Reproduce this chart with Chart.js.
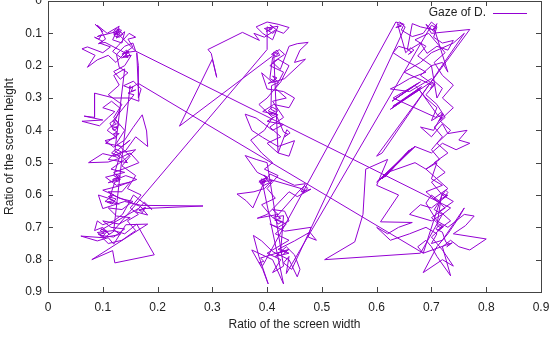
<!DOCTYPE html>
<html lang="en">
<head>
<meta charset="UTF-8">
<title>Gaze of D.</title>
<script src="https://cdn.jsdelivr.net/npm/chart.js"></script>
<style>
  body { margin: 0; background: #fff; }
</style>
</head>
<body>
<canvas id="gaze" width="551" height="337"></canvas>
<script>
const xTicks = [0, 0.1, 0.2, 0.3, 0.4, 0.5, 0.6, 0.7, 0.8, 0.9];
const yTicks = [0, 0.1, 0.2, 0.3, 0.4, 0.5, 0.6, 0.7, 0.8, 0.9];

// gaze samples, [x ratio, y ratio], chunks listed in recording order below
const leftTop = [
  [0.12,0.10],[0.13,0.085],[0.125,0.115],[0.14,0.095],[0.135,0.13],[0.118,0.12],[0.13,0.078],[0.108,0.1],
  [0.09,0.075],[0.1,0.095],[0.086,0.072],[0.096,0.088],[0.105,0.118],[0.094,0.13],[0.114,0.142],[0.1,0.16],
  [0.072,0.142],[0.062,0.148],[0.086,0.168],[0.072,0.205],[0.09,0.182],[0.11,0.168],[0.124,0.19],[0.142,0.158],
  [0.155,0.142],[0.146,0.118],[0.16,0.112],[0.148,0.1],[0.128,0.138],[0.118,0.156],[0.134,0.176],[0.152,0.168],
  [0.14,0.2],[0.12,0.218],[0.132,0.242],[0.146,0.222],[0.13,0.205],[0.125,0.165],[0.14,0.14],[0.155,0.13],
  [0.16,0.155]
];
const leftFix1 = [
  [0.122,0.092],[0.128,0.1],[0.12,0.104],[0.131,0.096],[0.126,0.088],[0.134,0.09],[0.129,0.106],[0.119,0.098],
  [0.124,0.085],[0.137,0.102],[0.13,0.112],[0.121,0.108],[0.127,0.094]
];
const leftFix2 = [
  [0.09,0.11],[0.098,0.104],[0.093,0.118],[0.085,0.112],[0.1,0.125],[0.092,0.132],[0.104,0.128]
];
const leftFix3 = [
  [0.138,0.158],[0.145,0.162],[0.14,0.17],[0.148,0.155],[0.135,0.165],[0.143,0.152],[0.15,0.168],[0.137,0.172],
  [0.146,0.175],[0.141,0.16],[0.16,0.155]
];
const rightLow1 = [
  [0.735,0.64],[0.72,0.66],[0.705,0.645],[0.715,0.62],[0.7,0.6],[0.69,0.625],[0.71,0.68],[0.73,0.7],
  [0.745,0.68],[0.76,0.66],[0.778,0.665],[0.762,0.695],[0.74,0.72],[0.8,0.736],[0.77,0.77],[0.75,0.76],
  [0.735,0.74],[0.72,0.76],[0.735,0.85],[0.71,0.79],[0.7,0.76],[0.69,0.74],[0.675,0.76],[0.685,0.78]
];
const rightFix6 = [
  [0.72,0.595],[0.728,0.602],[0.722,0.61],[0.73,0.592],[0.726,0.585],[0.718,0.605]
];
const rightFix7 = [
  [0.71,0.695],[0.718,0.702],[0.712,0.71],[0.722,0.698],[0.716,0.69],[0.708,0.705],[0.72,0.715]
];
const rightFix8 = [
  [0.726,0.745],[0.734,0.752],[0.728,0.76],[0.738,0.748],[0.685,0.78]
];
const leftMid = [
  [0.165,0.255],[0.15,0.27],[0.138,0.262],[0.156,0.248],[0.17,0.272],[0.165,0.3],[0.165,0.2],[0.162,0.16],
  [0.166,0.31],[0.15,0.3],[0.12,0.3],[0.085,0.285],[0.085,0.36],[0.066,0.356],[0.1,0.368],[0.062,0.372],
  [0.094,0.386],[0.11,0.36],[0.122,0.342],[0.1,0.33],[0.116,0.31],[0.132,0.332],[0.12,0.38],[0.108,0.4],
  [0.126,0.422],[0.104,0.432],[0.12,0.452],[0.14,0.43],[0.155,0.392],[0.172,0.352],[0.18,0.402],[0.182,0.45],
  [0.16,0.42],[0.142,0.462],[0.12,0.48],[0.1,0.472],[0.074,0.5],[0.11,0.498],[0.128,0.488],[0.15,0.47],
  [0.166,0.5],[0.14,0.518],[0.12,0.53],[0.132,0.552],[0.11,0.562],[0.142,0.54],[0.162,0.552],[0.13,0.572],
  [0.1,0.585],[0.12,0.6],[0.104,0.62],[0.13,0.628],[0.11,0.61],[0.092,0.6],[0.1,0.642],[0.14,0.62],
  [0.17,0.632],[0.283,0.634],[0.172,0.642],[0.182,0.662],[0.16,0.652],[0.176,0.622],[0.19,0.645],[0.156,0.6],
  [0.136,0.66],[0.12,0.68],[0.1,0.692],[0.09,0.68],[0.085,0.71],[0.1,0.7],[0.112,0.722],[0.122,0.71],
  [0.132,0.722],[0.1,0.732],[0.06,0.727],[0.09,0.742],[0.11,0.732],[0.12,0.752],[0.142,0.692],[0.182,0.69],
  [0.08,0.8],[0.118,0.772],[0.122,0.81],[0.194,0.785],[0.162,0.69],[0.14,0.72],[0.12,0.71]
];
const leftFix4 = [
  [0.15,0.262],[0.148,0.27],[0.155,0.265],[0.152,0.28],[0.16,0.275],[0.146,0.285],[0.157,0.29]
];
const leftFix5 = [
  [0.118,0.372],[0.125,0.38],[0.115,0.388],[0.128,0.392],[0.12,0.4],[0.113,0.378],[0.123,0.366],[0.13,0.385],
  [0.117,0.395],[0.126,0.405],[0.119,0.412]
];
const leftWander = [
  [0.13,0.41],[0.105,0.44],[0.135,0.45],[0.15,0.43],[0.128,0.46],[0.11,0.49],[0.145,0.5],[0.13,0.47],
  [0.16,0.46],[0.14,0.49],[0.115,0.52],[0.14,0.53],[0.105,0.545],[0.125,0.57],[0.15,0.56],[0.135,0.59],
  [0.11,0.59],[0.13,0.61],[0.155,0.62],[0.135,0.645],[0.11,0.64],[0.125,0.665],[0.15,0.67],[0.13,0.69],
  [0.1,0.68],[0.115,0.7],[0.14,0.705],[0.12,0.73],[0.095,0.725],[0.11,0.75],[0.135,0.74],[0.16,0.71],
  [0.145,0.68],[0.165,0.66],[0.15,0.64],[0.17,0.6],[0.145,0.58],[0.16,0.54],[0.135,0.51],[0.15,0.48],
  [0.125,0.44],[0.14,0.4],[0.12,0.36],[0.135,0.32],[0.11,0.29],[0.13,0.26],[0.12,0.23],[0.14,0.21]
];
const leftFix6 = [
  [0.122,0.465],[0.13,0.472],[0.118,0.478],[0.127,0.484],[0.135,0.468],[0.124,0.458],[0.116,0.47],[0.131,0.48]
];
const leftFix7 = [
  [0.12,0.54],[0.128,0.548],[0.118,0.552],[0.132,0.542],[0.124,0.535],[0.13,0.556],[0.122,0.56]
];
const leftFix8 = [
  [0.112,0.61],[0.12,0.617],[0.108,0.622],[0.117,0.628],[0.124,0.612],[0.11,0.605],[0.118,0.6]
];
const leftFix9 = [
  [0.168,0.635],[0.175,0.645],[0.166,0.648],[0.178,0.638],[0.172,0.655],[0.165,0.642]
];
const leftFix10 = [
  [0.095,0.71],[0.103,0.718],[0.092,0.722],[0.1,0.728],[0.108,0.712],[0.097,0.705],[0.112,0.72],[0.104,0.732],
  [0.09,0.716],[0.12,0.71]
];
const midFix1 = [
  [0.40,0.15],[0.4,0.08],[0.408,0.088],[0.398,0.094],[0.412,0.082],[0.405,0.074],[0.418,0.09],[0.41,0.1],
  [0.402,0.092],[0.395,0.085],[0.42,0.078]
];
const midTop = [
  [0.41,0.12],[0.392,0.1],[0.38,0.08],[0.4,0.065],[0.42,0.072],[0.44,0.082],[0.43,0.1],
  [0.415,0.09],[0.395,0.112],[0.376,0.1],[0.386,0.122],[0.355,0.097],[0.292,0.15],[0.298,0.162],[0.308,0.236],
  [0.3,0.18],[0.24,0.387],[0.41,0.17],[0.422,0.15],[0.432,0.165],[0.41,0.19],[0.424,0.212],[0.44,0.14],
  [0.455,0.132],[0.475,0.128],[0.46,0.152],[0.45,0.19],[0.47,0.18],[0.432,0.24],[0.41,0.252],[0.39,0.222],
  [0.4,0.272],[0.43,0.28],[0.45,0.3],[0.44,0.33],[0.412,0.32],[0.392,0.342],[0.42,0.352],[0.4,0.372],
  [0.43,0.382],[0.41,0.4],[0.38,0.362],[0.36,0.35],[0.372,0.4],[0.392,0.422],[0.42,0.45],[0.45,0.432],
  [0.44,0.48],[0.42,0.47]
];
const midFix2 = [
  [0.412,0.158],[0.42,0.163],[0.415,0.17],[0.408,0.165],[0.418,0.152],[0.423,0.168],[0.41,0.175]
];
const midFix3 = [
  [0.405,0.24],[0.414,0.248],[0.402,0.255],[0.418,0.238],[0.41,0.232],[0.42,0.252],[0.408,0.262]
];
const midFix4 = [
  [0.407,0.335],[0.415,0.342],[0.404,0.348],[0.412,0.355],[0.42,0.338],[0.409,0.328],[0.402,0.34],[0.416,0.35]
];
const midFix5 = [
  [0.43,0.405],[0.438,0.412],[0.432,0.42],[0.442,0.408],[0.436,0.398]
];
const midWander = [
  [0.42,0.47],[0.4,0.44],[0.425,0.42],[0.405,0.39],[0.43,0.36],[0.41,0.31],[0.435,0.3],[0.415,0.27],
  [0.43,0.22],[0.405,0.2],[0.42,0.18],[0.44,0.2],[0.425,0.25],[0.4,0.3],[0.385,0.32],[0.41,0.36],
  [0.395,0.4],[0.37,0.43],[0.39,0.47],[0.41,0.5],[0.395,0.52],[0.42,0.54],[0.4,0.58],[0.415,0.61],
  [0.39,0.63],[0.41,0.67],[0.435,0.69],[0.415,0.72],[0.44,0.74],[0.42,0.76],[0.4,0.78],[0.425,0.8],
  [0.41,0.84],[0.43,0.82]
];
const midLow = [
  [0.40,0.5],[0.38,0.49],[0.36,0.478],[0.382,0.53],[0.4,0.545],[0.385,0.56],[0.41,0.555],[0.395,0.58],
  [0.376,0.59],[0.345,0.597],[0.362,0.618],[0.374,0.64],[0.392,0.57],[0.405,0.535],[0.45,0.57],[0.47,0.565],
  [0.462,0.59],[0.48,0.582],[0.455,0.605],[0.44,0.59],[0.412,0.64],[0.4,0.66],[0.382,0.672],[0.42,0.66],
  [0.41,0.645],[0.432,0.65],[0.44,0.68],[0.42,0.7],[0.405,0.69],[0.432,0.712],[0.48,0.7],[0.475,0.73],
  [0.49,0.74],[0.478,0.715],[0.45,0.742],[0.42,0.768],[0.44,0.78],[0.415,0.79],[0.435,0.76],[0.45,0.785],
  [0.46,0.83],[0.455,0.853],[0.44,0.8],[0.41,0.775],[0.39,0.742],[0.375,0.725],[0.385,0.79],[0.402,0.875],
  [0.392,0.83],[0.372,0.77],[0.41,0.8],[0.43,0.875]
];
const midFix6 = [
  [0.39,0.55],[0.398,0.558],[0.388,0.565],[0.4,0.545],[0.394,0.538],[0.404,0.562],[0.392,0.572],[0.386,0.556],
  [0.397,0.548]
];
const midFix7 = [
  [0.462,0.58],[0.47,0.588],[0.465,0.595],[0.474,0.578],[0.468,0.572],[0.458,0.588]
];
const midFix8 = [
  [0.418,0.665],[0.425,0.672],[0.414,0.678],[0.428,0.682],[0.42,0.69],[0.412,0.668],[0.43,0.664]
];
const midFix9 = [
  [0.425,0.768],[0.432,0.774],[0.422,0.778],[0.436,0.772],[0.43,0.782],[0.44,0.768]
];
const midFix10 = [
  [0.388,0.795],[0.394,0.805],[0.385,0.81],[0.392,0.818],[0.398,0.8]
];
const rightTop = [
  [0.635,0.065],[0.65,0.072],[0.645,0.09],[0.665,0.11],[0.685,0.1],[0.7,0.065],[0.71,0.08],[0.704,0.112],
  [0.72,0.13],[0.74,0.122],[0.73,0.152],[0.71,0.14],[0.692,0.162],[0.68,0.13],[0.66,0.15],[0.64,0.14],
  [0.63,0.16],[0.65,0.182],[0.67,0.2],[0.69,0.22],[0.66,0.24],[0.64,0.26],[0.625,0.272],[0.66,0.28],
  [0.68,0.26],[0.7,0.24],[0.72,0.27],[0.71,0.3],[0.7,0.2],[0.72,0.19],[0.73,0.22],[0.706,0.09],
  [0.68,0.08],[0.665,0.07]
];
const rightFix3 = [
  [0.656,0.15],[0.664,0.158],[0.658,0.165],[0.668,0.152],[0.662,0.145],[0.653,0.16]
];
const rightFix1 = [
  [0.638,0.07],[0.645,0.078],[0.635,0.082],[0.648,0.072],[0.642,0.065],[0.652,0.08]
];
const midBottom2 = [
  [0.445,0.83],[0.43,0.81],[0.44,0.79],[0.435,0.843]
];
const rightFix2 = [
  [0.7,0.075],[0.708,0.082],[0.702,0.09],[0.71,0.07],[0.705,0.095]
];
const rightDownA = [
  [0.69,0.072],[0.7,0.1],[0.77,0.088],[0.6,0.48],[0.61,0.47],[0.76,0.1],[0.74,0.13],[0.7,0.16],
  [0.68,0.19],[0.65,0.22]
];
const rightFix4 = [
  [0.695,0.255],[0.702,0.262],[0.698,0.27],[0.707,0.258],[0.7,0.25]
];
const rightFan = [
  [0.625,0.335],[0.68,0.27],[0.628,0.33],[0.682,0.265],[0.63,0.325],[0.678,0.275]
];
const rightFix5 = [
  [0.712,0.355],[0.72,0.362],[0.714,0.37],[0.722,0.35],[0.716,0.345],[0.708,0.36]
];
const rightDownB = [
  [0.63,0.3],[0.68,0.25],[0.628,0.31],[0.675,0.255],[0.632,0.305],[0.67,0.26],
  [0.69,0.3],[0.71,0.33],[0.7,0.37],[0.72,0.35],[0.704,0.4],[0.68,0.39],[0.7,0.42],[0.72,0.38],
  [0.73,0.41],[0.765,0.4],[0.75,0.43],[0.77,0.44],[0.745,0.46],[0.72,0.44],[0.7,0.47],[0.67,0.45],
  [0.6,0.56],[0.665,0.455],[0.605,0.555],[0.67,0.45],[0.61,0.55],[0.66,0.46],[0.615,0.545],[0.655,0.47],
  [0.62,0.53],[0.67,0.5],[0.69,0.52],[0.71,0.5],[0.7,0.55],[0.72,0.57],[0.69,0.59],[0.71,0.62],
  [0.73,0.6],[0.7,0.64],[0.68,0.63],[0.66,0.66],[0.7,0.68],[0.72,0.66],[0.68,0.78],[0.505,0.8],
  [0.56,0.745],[0.575,0.66],[0.58,0.52],[0.62,0.49],[0.6,0.57],[0.64,0.6],[0.607,0.683],[0.665,0.685],
  [0.64,0.7],[0.62,0.72],[0.6,0.7],[0.625,0.74],[0.66,0.72],[0.69,0.7],[0.71,0.72],[0.7,0.75],
  [0.72,0.74],[0.74,0.69],[0.76,0.64],[0.75,0.67],[0.73,0.72],[0.71,0.76],[0.685,0.84],[0.72,0.8],
  [0.74,0.82],[0.72,0.77],[0.7,0.73]
];
const rightWander = [
  [0.72,0.7],[0.7,0.67],[0.725,0.64],[0.705,0.61],[0.73,0.58],[0.71,0.55],[0.69,0.52],[0.715,0.49],
  [0.7,0.46],[0.72,0.42],[0.705,0.39],[0.725,0.36],[0.71,0.32],[0.69,0.29],[0.705,0.26],[0.68,0.23],
  [0.7,0.2],[0.675,0.17],[0.69,0.14],[0.67,0.12],[0.695,0.1],[0.71,0.13],[0.725,0.16],[0.705,0.19],
  [0.72,0.23],[0.74,0.26],[0.72,0.3],[0.74,0.33],[0.715,0.37],[0.735,0.4],[0.71,0.44],[0.73,0.47],
  [0.705,0.5],[0.725,0.53],[0.7,0.56],[0.72,0.6],[0.74,0.62],[0.715,0.65],[0.735,0.68],[0.71,0.71]
];

const path = [].concat(
  leftTop, leftFix1, leftFix2, leftFix3,
  rightLow1, rightFix6, rightFix7, rightFix8,
  leftMid, leftFix4, leftFix5, leftWander, leftFix6, leftFix7, leftFix8, leftFix9, leftFix10,
  midFix1, midTop, midFix2, midFix3, midFix4, midFix5, midWander,
  midLow, midFix6, midFix7, midFix8, midFix9, midFix10,
  rightTop, rightFix3, rightFix1, midBottom2, rightFix2,
  rightDownA, rightFix4, rightFan, rightFix5, rightDownB, rightWander
);

const lineColor = '#9400d3';
const textColor = '#222';
const font = { family: '"Liberation Sans", Arial, sans-serif', size: 12 };

// gnuplot look: closed border, ticks pointing inwards on all four sides, key top right
const framePlugin = {
  id: 'frame',
  afterDraw(chart) {
    const { ctx, chartArea: a, scales: { x, y } } = chart;
    ctx.save();
    ctx.strokeStyle = '#444';
    ctx.lineWidth = 1;
    ctx.strokeRect(Math.round(a.left) + 0.5, Math.round(a.top) + 0.5,
      Math.round(a.right - a.left), Math.round(a.bottom - a.top));
    ctx.beginPath();
    x.ticks.forEach(t => {
      const p = Math.round(x.getPixelForValue(t.value)) + 0.5;
      ctx.moveTo(p, a.bottom); ctx.lineTo(p, a.bottom - 5);
      ctx.moveTo(p, a.top); ctx.lineTo(p, a.top + 5);
    });
    y.ticks.forEach(t => {
      const p = Math.round(y.getPixelForValue(t.value)) + 0.5;
      ctx.moveTo(a.left, p); ctx.lineTo(a.left + 5, p);
      ctx.moveTo(a.right, p); ctx.lineTo(a.right - 5, p);
    });
    ctx.stroke();

    const ds = chart.data.datasets[0];
    const ky = a.top + 12;
    ctx.font = font.size + 'px ' + font.family;
    ctx.fillStyle = textColor;
    ctx.textAlign = 'right';
    ctx.textBaseline = 'middle';
    ctx.fillText(ds.label, a.right - 55, ky);
    ctx.strokeStyle = ds.borderColor;
    ctx.beginPath();
    ctx.moveTo(a.right - 48, ky + 0.5);
    ctx.lineTo(a.right - 14, ky + 0.5);
    ctx.stroke();
    ctx.restore();
  }
};

new Chart(document.getElementById('gaze'), {
  type: 'scatter',
  data: {
    datasets: [{
      label: 'Gaze of D.',
      data: path.map(p => ({ x: p[0], y: p[1] })),
      showLine: true,
      borderColor: lineColor,
      borderWidth: 1,
      pointRadius: 0,
      tension: 0
    }]
  },
  options: {
    responsive: false,
    animation: false,
    layout: { padding: { left: 0, right: 10, top: 1, bottom: 0 } },
    plugins: { legend: { display: false }, tooltip: { enabled: false } },
    scales: {
      x: {
        type: 'linear', min: 0, max: 0.9,
        grid: { display: false, drawTicks: false },
        border: { display: false },
        afterBuildTicks: s => { s.ticks = xTicks.map(v => ({ value: v })); },
        afterFit: s => { s.height = 45; s.paddingLeft = 0; s.paddingRight = 0; },
        ticks: { color: textColor, font: font, padding: 8, maxRotation: 0, autoSkip: false, callback: v => String(v) },
        title: { display: true, text: 'Ratio of the screen width', color: textColor, font: font, padding: { top: 4, bottom: 5 } }
      },
      y: {
        type: 'linear', min: 0, max: 0.9, reverse: true,
        grid: { display: false, drawTicks: false },
        border: { display: false },
        afterBuildTicks: s => { s.ticks = yTicks.map(v => ({ value: v })); },
        afterFit: s => { s.width = 48; s.paddingTop = 0; s.paddingBottom = 0; },
        ticks: { color: textColor, font: font, padding: 6, autoSkip: false, callback: v => String(v) },
        title: { display: true, text: 'Ratio of the screen height', color: textColor, font: font, padding: { top: 2, bottom: 0 } }
      }
    }
  },
  plugins: [framePlugin]
});
</script>
</body>
</html>
